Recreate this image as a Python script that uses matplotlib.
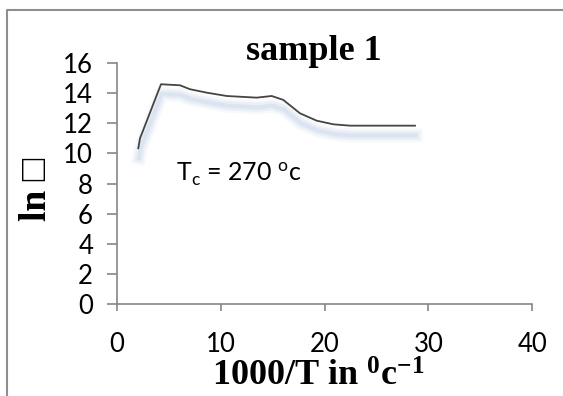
import matplotlib
matplotlib.use("Agg")
import matplotlib.pyplot as plt
import matplotlib.patheffects as pe
from matplotlib.lines import Line2D

# data
inv_temp = [2.08, 2.24, 2.43, 4.26, 6.09, 7.05, 8.67, 10.59, 13.47, 14.92,
            16.03, 17.64, 19.25, 20.85, 22.45, 28.71]
ln_sigma = [10.34, 11.0, 11.33, 14.59, 14.52, 14.26, 14.03, 13.81, 13.70, 13.81,
            13.55, 12.66, 12.17, 11.93, 11.84, 11.84]
x_ticks = [0, 10, 20, 30, 40]
y_ticks = [0, 2, 4, 6, 8, 10, 12, 14, 16]

plt.rcParams['font.family'] = ['Lato', 'DejaVu Sans']
plt.rcParams['mathtext.fontset'] = 'custom'

fig = plt.figure(figsize=(5.63, 3.96), dpi=100)
ax = fig.add_axes([0.2073, 0.2323, 0.7382, 0.6086])

shadow = '#a7bde0'
ax.plot(inv_temp, ln_sigma, color='#454545', lw=1.3, solid_joinstyle='round',
        path_effects=[
            pe.SimpleLineShadow(offset=(0.5, -7), shadow_color=shadow, alpha=0.10, rho=1, linewidth=10),
            pe.SimpleLineShadow(offset=(0.5, -7), shadow_color=shadow, alpha=0.15, rho=1, linewidth=6.5),
            pe.SimpleLineShadow(offset=(0.5, -7), shadow_color=shadow, alpha=0.22, rho=1, linewidth=3),
            pe.Normal()])

ax.set_xlim(0, 40)
ax.set_ylim(0, 16)
ax.set_xticks(x_ticks)
ax.set_yticks(y_ticks)
for s in ['top', 'right']:
    ax.spines[s].set_visible(False)
for s in ['left', 'bottom']:
    ax.spines[s].set_color('#868686')
    ax.spines[s].set_linewidth(1.2)
ax.tick_params(axis='y', length=7, width=1.2, color='#868686', pad=10, labelsize=18.5)
ax.tick_params(axis='x', length=5, width=1.2, color='#868686', pad=15, labelsize=18.5)

ax.text(5.7, 8.1, r'T$_\mathregular{c}$ = 270 $^\mathregular{o}$c', fontsize=18,
        ha='left', va='baseline')

serif = ['Liberation Serif', 'DejaVu Sans']
fig.text(313.5 / 563, 1 - 60 / 396, 'sample 1', fontsize=26, fontweight='bold',
         family=serif, ha='center', va='baseline')
fig.text(36 / 563, 1 - 189 / 396, 'ln \u25a1', fontsize=27, fontweight='bold',
         family=serif, rotation=90, ha='center', va='center')
fig.text(318 / 563, 1 - 386 / 396,
         r'1000/T in $\mathregular{^{0}}$c$\mathregular{^{-1}}$',
         fontsize=26, fontweight='bold', family=serif, ha='center', va='baseline')

# outer chart border (only top and left edges fall inside the picture)
fig.add_artist(Line2D([7 / 563, 7 / 563, 1.0], [0.0, 1 - 9.5 / 396, 1 - 9.5 / 396],
                      transform=fig.transFigure, color='#8f8f8f', lw=1.5))

fig.savefig('out.png', dpi=100)
